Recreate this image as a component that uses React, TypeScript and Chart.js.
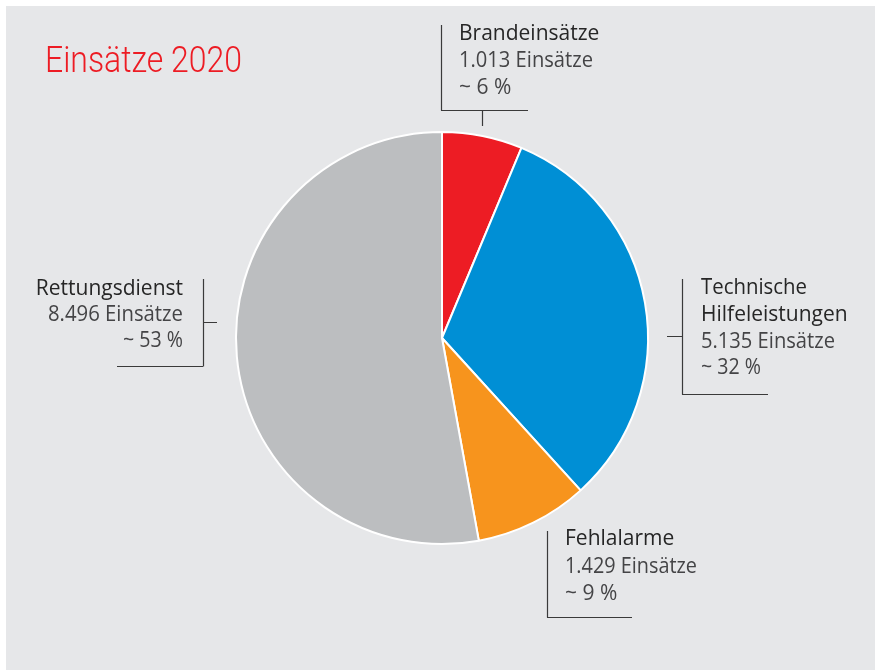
import React, { useEffect, useRef } from "react";
import { Chart, registerables } from "chart.js";

Chart.register(...registerables);

const title = "Einsätze 2020";
const categories = ["Brandeinsätze", "Technische\nHilfeleistungen", "Fehlalarme", "Rettungsdienst"];
const values = [1013, 5135, 1429, 8496];
const percents = [6, 32, 9, 53];
const unitLabel = "Einsätze";
const colors = ["#ed1c24", "#008fd5", "#f7941d", "#bcbec0"];

// label layout, offsets relative to the pie centre
type Lbl = {
  align: "left" | "right";
  tx: number;
  ty: number[];
  widths: number[];
  vx: number;
  vy: [number, number];
  hx: [number, number];
  tick?: [number, number, number, number];
};
const labelLayout: Lbl[] = [
  { align: "left", tx: 17, ty: [-298, -271, -244], widths: [143, 134, 60], vx: -1, vy: [-313, -228], hx: [-1, 86], tick: [40, -228, 40, -212] },
  { align: "left", tx: 259, ty: [-44, -17, 10, 36], widths: [106, 152, 134, 60], vx: 240, vy: [-59, 56], hx: [240, 326], tick: [225, -2, 240, -2] },
  { align: "left", tx: 123, ty: [207, 235, 262], widths: [110, 132, 60], vx: 105, vy: [193, 279], hx: [105, 190] },
  { align: "right", tx: -259, ty: [-43, -17, 9], widths: [150, 135, 60], vx: -239, vy: [-59, 28], hx: [-325, -239], tick: [-239, -16, -225, -16] },
];

const bgPlugin = {
  id: "bgPanel",
  beforeDraw(chart: any) {
    const ctx = chart.ctx;
    ctx.save();
    ctx.fillStyle = "#ffffff";
    ctx.fillRect(0, 0, chart.width, chart.height);
    ctx.fillStyle = "#e6e7e9";
    ctx.fillRect(6, 6, chart.width - 6, chart.height - 6);
    ctx.restore();
  },
};

const labelPlugin = {
  id: "sliceLabels",
  afterDraw(chart: any) {
    const ctx = chart.ctx;
    const arc = chart.getDatasetMeta(0).data[0];
    const cx = arc.x;
    const cy = arc.y;
    ctx.save();
    // title
    ctx.fillStyle = "#ed1c24";
    ctx.font = "300 36px Roboto";
    ctx.textAlign = "left";
    ctx.textBaseline = "alphabetic";
    ctx.fillText(title, 45, 72, 197);

    labelLayout.forEach((l, i) => {
      const lines = [
        ...categories[i].split("\n"),
        `${values[i].toLocaleString("de-DE")} ${unitLabel}`,
        `~ ${percents[i]} %`,
      ];
      ctx.textAlign = l.align;
      lines.forEach((t, j) => {
        const isName = j < lines.length - 2;
        ctx.fillStyle = isName ? "#262626" : "#444446";
        ctx.font = "21px 'Open Sans'";
        const w = ctx.measureText(t).width;
        const mw = l.widths[j];
        if (w > mw) ctx.fillText(t, cx + l.tx, cy + l.ty[j], mw);
        else ctx.fillText(t, cx + l.tx, cy + l.ty[j]);
      });
      ctx.strokeStyle = "#3a3a3a";
      ctx.lineWidth = 1.2;
      ctx.beginPath();
      const vx = Math.round(cx + l.vx) + 0.5;
      const by = Math.round(cy + l.vy[1]) + 0.5;
      ctx.moveTo(vx, cy + l.vy[0]);
      ctx.lineTo(vx, by);
      ctx.moveTo(cx + l.hx[0], by);
      ctx.lineTo(cx + l.hx[1], by);
      if (l.tick) {
        const [x1, y1, x2, y2] = l.tick;
        if (x1 === x2) {
          const tx = Math.round(cx + x1) + 0.5;
          ctx.moveTo(tx, cy + y1);
          ctx.lineTo(tx, cy + y2);
        } else {
          const ty = Math.round(cy + y1) + 0.5;
          ctx.moveTo(cx + x1, ty);
          ctx.lineTo(cx + x2, ty);
        }
      }
      ctx.stroke();
    });
    ctx.restore();
  },
};

export default function App() {
  const ref = useRef<HTMLCanvasElement>(null);
  useEffect(() => {
    document.body.style.margin = "0";
    const chart = new Chart(ref.current!, {
      type: "pie",
      data: {
        labels: categories.map((c) => c.replace("\n", " ")),
        datasets: [
          {
            data: values,
            backgroundColor: colors,
            borderColor: "#ffffff",
            borderWidth: 2,
            radius: 206,
          } as any,
        ],
      },
      options: {
        responsive: false,
        animation: false,
        layout: { padding: { left: 232, right: 223, top: 128, bottom: 122 } },
        plugins: { legend: { display: false }, tooltip: { enabled: false }, title: { display: false } },
      },
      plugins: [bgPlugin, labelPlugin],
    });
    return () => chart.destroy();
  }, []);
  return (
    <div style={{ width: 875, height: 670 }}>
      <canvas ref={ref} width={875} height={670} />
    </div>
  );
}
